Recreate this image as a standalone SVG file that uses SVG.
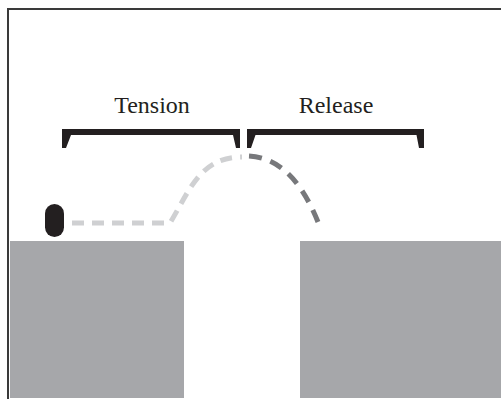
<svg xmlns="http://www.w3.org/2000/svg" width="501" height="399" viewBox="0 0 501 399">
<style>
.lbl{font-family:"Liberation Serif","Times New Roman",serif;font-size:24px;fill:#231f20;text-anchor:middle}
.brk{fill:#231f20}
.block{fill:#a6a7aa}
.dash{fill:none;stroke-width:5;stroke-dasharray:12 8}
</style>
<rect width="501" height="399" fill="#fff"/>
<g id="frame" fill="none" stroke="#3a3a3a" stroke-width="2">
<path d="M8,399 V9 H501"/>
</g>
<g id="block-left"><rect class="block" x="10" y="241" width="174" height="157"/></g>
<g id="block-right"><rect class="block" x="300" y="241" width="201" height="157"/></g>
<g id="tension">
<polygon class="brk" points="62,129 240,129 240,148 236,148 233,135 71,135 66,148 62,148"/>
<text class="lbl" x="152" y="113">Tension</text>
</g>
<g id="release">
<polygon class="brk" points="247,129 424,129 424,148 419,148 416.5,135 255.5,135 251,148 247,148"/>
<text class="lbl" x="336" y="113">Release</text>
</g>
<g id="ball"><rect x="45" y="204" width="19" height="33" rx="9.5" fill="#231f20"/></g>
<g id="connectors">
<path class="dash" stroke="#cfd0d2" d="M72,223 H170 C190,190 200,157 242,157"/>
<path class="dash" stroke="#77787b" style="stroke-dasharray:13 9" d="M249,156 C285,158 305,190 318,222"/>
</g>
</svg>
